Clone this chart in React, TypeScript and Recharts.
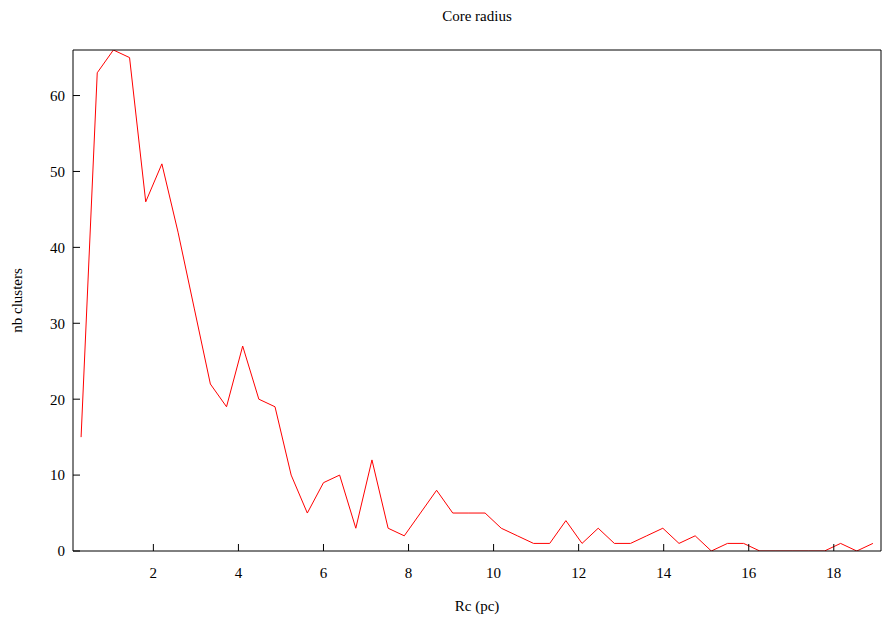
import React from 'react';
import { LineChart, Line, XAxis, YAxis, Label } from 'recharts';

const rcValues = [
  0.30, 0.68, 1.06, 1.44, 1.82, 2.20, 2.58, 2.96, 3.34, 3.72,
  4.10, 4.48, 4.86, 5.24, 5.62, 6.00, 6.38, 6.76, 7.14, 7.52,
  7.90, 8.28, 8.66, 9.04, 9.42, 9.80, 10.18, 10.56, 10.94, 11.32,
  11.70, 12.08, 12.46, 12.84, 13.22, 13.60, 13.98, 14.36, 14.74, 15.12,
  15.50, 15.88, 16.26, 16.64, 17.02, 17.40, 17.78, 18.16, 18.54, 18.92,
];

const clusterCounts = [
  15, 63, 66, 65, 46, 51, 42, 32, 22, 19,
  27, 20, 19, 10, 5, 9, 10, 3, 12, 3,
  2, 5, 8, 5, 5, 5, 3, 2, 1, 1,
  4, 1, 3, 1, 1, 2, 3, 1, 2, 0,
  1, 1, 0, 0, 0, 0, 0, 1, 0, 1,
];

const xTicks = [2, 4, 6, 8, 10, 12, 14, 16, 18];
const yTicks = [0, 10, 20, 30, 40, 50, 60];
const xDomain = [0.11, 19.11];
const yDomain = [0, 66];

const titleText = 'Core radius';
const xLabelText = 'Rc (pc)';
const yLabelText = 'nb clusters';

const data = rcValues.map((rc, i) => ({ rc, count: clusterCounts[i] }));

const FONT = 'Liberation Serif, Times New Roman, serif';
const tickStyle = { fill: '#000', fontSize: 15, fontFamily: FONT };
const axisColor = '#000';

export default function App() {
  return (
    <div style={{ position: 'absolute', left: 0, top: 0, background: '#fff' }}>
      <LineChart
        width={891}
        height={622}
        data={data}
        margin={{ top: 20, right: 0, bottom: 0, left: 0 }}
        style={{ fontFamily: FONT }}
      >
        <XAxis
          xAxisId="bottom"
          dataKey="rc"
          type="number"
          domain={xDomain}
          allowDataOverflow
          ticks={xTicks}
          interval={0}
          height={71}
          tickSize={-7}
          tickMargin={23}
          tick={tickStyle}
          stroke={axisColor}
          tickLine={{ stroke: axisColor }}
        >
          <Label
            content={(props: any) => {
              const vb = props.viewBox || { x: 73, y: 551, width: 808, height: 71 };
              return (
                <text
                  x={vb.x + vb.width / 2}
                  y={vb.y + vb.height - 11}
                  textAnchor="middle"
                  fontSize={15}
                  fontFamily={FONT}
                  fill="#000"
                >
                  {xLabelText}
                </text>
              );
            }}
          />
        </XAxis>
        <XAxis
          xAxisId="top"
          orientation="top"
          dataKey="rc"
          type="number"
          domain={xDomain}
          allowDataOverflow
          ticks={xTicks}
          interval={0}
          height={30}
          tickSize={-7}
          tick={false}
          stroke={axisColor}
          tickLine={{ stroke: axisColor }}
        >
          <Label
            content={(props: any) => {
              const vb = props.viewBox || { x: 73, y: 20, width: 808, height: 30 };
              return (
                <text
                  x={vb.x + vb.width / 2}
                  y={vb.y + 1}
                  textAnchor="middle"
                  fontSize={15}
                  fontFamily={FONT}
                  fill="#000"
                >
                  {titleText}
                </text>
              );
            }}
          />
        </XAxis>
        <YAxis
          yAxisId="left"
          type="number"
          domain={yDomain}
          allowDataOverflow
          ticks={yTicks}
          interval={0}
          width={73}
          tickSize={-7}
          tickMargin={15}
          tick={tickStyle}
          stroke={axisColor}
          tickLine={{ stroke: axisColor }}
        >
          <Label
            content={(props: any) => {
              const vb = props.viewBox || { x: 0, y: 50, width: 73, height: 501 };
              const cx = 22;
              const cy = vb.y + vb.height / 2;
              return (
                <text
                  x={cx}
                  y={cy}
                  transform={`rotate(-90 ${cx} ${cy})`}
                  textAnchor="middle"
                  fontSize={15}
                  fontFamily={FONT}
                  fill="#000"
                >
                  {yLabelText}
                </text>
              );
            }}
          />
        </YAxis>
        <YAxis
          yAxisId="right"
          orientation="right"
          type="number"
          domain={yDomain}
          allowDataOverflow
          ticks={yTicks}
          interval={0}
          width={10}
          tickSize={-7}
          tick={false}
          stroke={axisColor}
          tickLine={{ stroke: axisColor }}
        />
        <Line
          xAxisId="bottom"
          yAxisId="left"
          type="linear"
          dataKey="count"
          stroke="#ff0000"
          strokeWidth={1}
          dot={false}
          activeDot={false}
          isAnimationActive={false}
        />
      </LineChart>
    </div>
  );
}
